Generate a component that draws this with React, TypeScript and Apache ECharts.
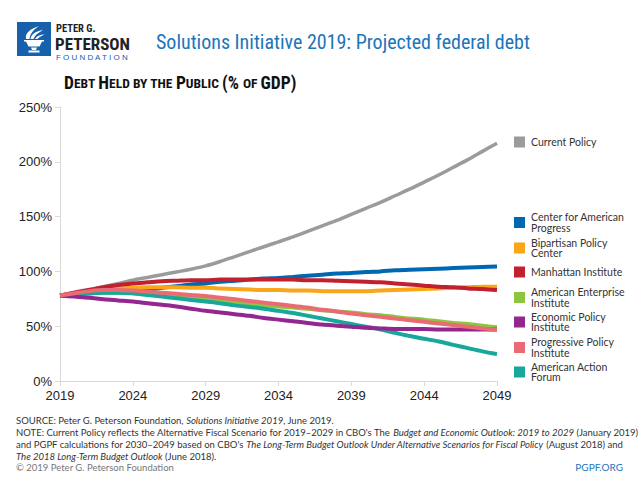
import React, { useEffect, useRef } from "react";
import * as echarts from "echarts";

const years = [
  "2019", "2020", "2021", "2022", "2023", "2024", "2025", "2026", "2027", "2028",
  "2029", "2030", "2031", "2032", "2033", "2034", "2035", "2036", "2037", "2038",
  "2039", "2040", "2041", "2042", "2043", "2044", "2045", "2046", "2047", "2048", "2049",
];

const currentPolicy = [78, 81, 83.5, 86, 89, 92, 94.5, 97, 99.5, 102, 105, 109, 113.5, 118, 122.5, 127, 131.5, 136.5, 141.5, 146.5, 152, 157.5, 163, 169, 175, 181.5, 188, 195, 202, 209.5, 217];
const centerAmericanProgress = [78, 79, 80, 81, 81.5, 82, 83.5, 85, 86.5, 88, 89, 90.5, 91.5, 92.5, 93.5, 94, 95, 96, 97, 98, 98.5, 99.5, 100, 101, 101.5, 102, 102.5, 103, 103.5, 104, 104.5];
const bipartisanPolicyCenter = [78, 80, 82, 83.5, 84.5, 85, 85.5, 85.5, 85.5, 85, 85, 84.5, 84, 83.5, 83, 83, 82.5, 82.5, 82, 82, 82, 82, 82.5, 83, 83.5, 84, 84.5, 85, 85.5, 86, 86];
const manhattanInstitute = [78, 80.5, 83, 85.5, 87.5, 89, 90, 91, 91.5, 92, 92, 92.5, 92.5, 92.5, 92.5, 92.5, 92.5, 92, 92, 91.5, 91, 90.5, 90, 89, 88, 87, 86, 85.5, 84.5, 84, 83];
const americanEnterpriseInstitute = [78, 79, 80, 80.5, 80.5, 80, 79, 78, 77, 76, 75, 73.5, 72, 70.5, 69, 68, 67, 66, 64.5, 63.5, 62.5, 61, 60, 58.5, 57, 56, 54.5, 53, 52, 50.5, 49];
const economicPolicyInstitute = [78, 77, 76, 74.5, 73.5, 72.5, 71, 69.5, 68, 66, 64, 62.5, 61, 59.5, 57.5, 56, 54.5, 53, 51.5, 50.5, 49.5, 48.5, 48, 47.5, 47.5, 47.5, 47, 47, 47, 47, 47];
const progressivePolicyInstitute = [78, 80, 82, 83, 83, 82.5, 81.5, 80.5, 79.5, 78.5, 77.5, 76, 74.5, 73, 71.5, 70, 68.5, 67, 65, 63.5, 61.5, 60, 58.5, 57, 55.5, 54, 52.5, 51, 49.5, 48, 46.5];
const americanActionForum = [78, 79, 80, 80.5, 80.5, 80, 78.5, 77, 75.5, 74, 72.5, 71, 69, 67.5, 66, 64, 62, 59.5, 57, 54.5, 52, 49.5, 47, 44, 41, 38.5, 36, 33, 30, 27, 24.5];

const seriesNames = [
  "Current Policy",
  "Center for American Progress",
  "Bipartisan Policy Center",
  "Manhattan Institute",
  "American Enterprise Institute",
  "Economic Policy Institute",
  "Progressive Policy Institute",
  "American Action Forum",
];
const legendLabels = [
  "Current Policy",
  "Center for American\nProgress",
  "Bipartisan Policy\nCenter",
  "Manhattan Institute",
  "American Enterprise\nInstitute",
  "Economic Policy\nInstitute",
  "Progressive Policy\nInstitute",
  "American Action\nForum",
];
const seriesData = [
  currentPolicy,
  centerAmericanProgress,
  bipartisanPolicyCenter,
  manhattanInstitute,
  americanEnterpriseInstitute,
  economicPolicyInstitute,
  progressivePolicyInstitute,
  americanActionForum,
];

const colors = ["#9b9b9b", "#0067b1", "#f9a61a", "#c1202f", "#8cc63f", "#92278f", "#ea6b74", "#17a89b"];
// drawing order (last on top)
const drawOrder = [0, 1, 2, 3, 4, 7, 5, 6];
const legendCenters = [142, 222.5, 248, 272, 297.5, 322, 347.5, 372];

const titleText = "Solutions Initiative 2019: Projected federal debt";
const sourceLine = "SOURCE: Peter G. Peterson Foundation, {i|Solutions Initiative 2019}, June 2019.";
const noteLine1 = "NOTE: Current Policy reflects the Alternative Fiscal Scenario for 2019–2029 in CBO's The {i|Budget and Economic Outlook: 2019 to 2029} (January 2019)";
const noteLine2 = "and PGPF calculations for 2030–2049 based on CBO's {i|The Long-Term Budget Outlook Under Alternative Scenarios for Fiscal Policy} (August 2018) and";
const noteLine3 = "{i|The 2018 Long-Term Budget Outlook} (June 2018).";
const copyright = "© 2019 Peter G. Peterson Foundation";
const siteText = "PGPF.ORG";

const torchPath =
  "M9 17 C8 11 13 7 22 4 C16 8 13 12 12.5 17 Z " +
  "M13.5 17 C14 12 19 9 26 8 C21 11 17.5 13.5 16.5 17 Z " +
  "M18 17 C19.5 14 23 12.5 27.5 12.5 C24 14 21.5 15.5 20.5 17 Z " +
  "M7 18 L27 18 L27 19.5 L25 19.5 L22.5 24.5 L11.5 24.5 L9 19.5 L7 19.5 Z " +
  "M14 25.5 L20 25.5 L19 28 L15 28 Z " +
  "M11.5 28.5 L22.5 28.5 L22.5 30.5 L11.5 30.5 Z";

const narrow = "'Liberation Sans Narrow', 'Roboto Condensed', 'Liberation Sans', sans-serif";
const noteFont = "'Liberation Sans Narrow', Lato, sans-serif";

export default function App() {
  const ref = useRef<HTMLDivElement>(null);
  useEffect(() => {
    if (!ref.current) return;
    echarts.graphic.registerShape("logo", echarts.graphic.extendPath(torchPath, {}) as any);
    const chart = echarts.init(ref.current, null, { renderer: "svg" });

    const legendGraphics: any[] = [];
    legendLabels.forEach((label, i) => {
      legendGraphics.push({
        type: "rect",
        shape: { x: 514, y: legendCenters[i] - 5.5, width: 11, height: 11 },
        style: { fill: colors[i] },
      });
      legendGraphics.push({
        type: "text",
        x: 531,
        y: legendCenters[i],
        style: {
          text: label,
          fill: "#333",
          font: "10.5px Lato, 'Open Sans', sans-serif",
          lineHeight: 10.5,
          width: 100,
          textVerticalAlign: "middle",
        },
      });
    });

    const noteRich = { i: { fontStyle: "italic", fontSize: 9.5, fontFamily: noteFont, fill: "#333" } };

    chart.setOption({
      animation: false,
      backgroundColor: "#fff",
      grid: { left: 60, right: 143, top: 107, bottom: 99 },
      xAxis: {
        type: "category",
        data: years,
        boundaryGap: false,
        axisLine: { lineStyle: { color: "#d9d9d9", width: 1 } },
        axisTick: { interval: 4, length: 5, lineStyle: { color: "#d9d9d9" } },
        axisLabel: { interval: 4, color: "#222", fontSize: 13, fontFamily: "'Liberation Sans', Arial, sans-serif", margin: 8 },
        splitLine: { show: false },
      },
      yAxis: {
        type: "value",
        min: 0,
        max: 250,
        interval: 50,
        axisLine: { show: true, lineStyle: { color: "#d9d9d9", width: 1 } },
        axisTick: { show: true, length: 5, lineStyle: { color: "#d9d9d9" } },
        axisLabel: { formatter: "{value}%", color: "#222", fontSize: 13, fontFamily: "'Liberation Sans', Arial, sans-serif", margin: 8 },
        splitLine: { show: false },
      },
      series: drawOrder.map((i) => ({
        name: seriesNames[i],
        type: "line",
        data: seriesData[i],
        smooth: 0.3,
        showSymbol: false,
        symbol: "none",
        lineStyle: { color: colors[i], width: i === 0 ? 3.5 : 4 },
        itemStyle: { color: colors[i] },
      })),
      graphic: [
        { type: "rect", shape: { x: 17, y: 22, width: 34, height: 34 }, style: { fill: "#1760ab" } },
        { type: "logo", x: 17, y: 22, scaleX: 1, scaleY: 1, style: { fill: "#fff" } },
        { type: "text", x: 56, y: 28, style: { text: "PETER G.", fill: "#222", font: `bold 10.5px ${narrow}`, textVerticalAlign: "middle" } },
        { type: "text", x: 55, y: 44, style: { text: "PETERSON", fill: "#222", font: `bold 17px ${narrow}`, textVerticalAlign: "middle" } },
        { type: "text", x: 56, y: 57, style: { text: "F O U N D A T I O N", fill: "#1760ab", font: `8px 'Liberation Sans', sans-serif`, textVerticalAlign: "middle" } },
        { type: "text", x: 156, y: 42, style: { text: titleText, fill: "#1b75bb", font: `20px ${narrow}`, textVerticalAlign: "middle" } },
        {
          type: "text",
          x: 64,
          y: 92,
          style: {
            text: "{b|D}{s|EBT }{b|H}{s|ELD BY THE }{b|P}{s|UBLIC }{b|(% }{s|OF }{b|GDP)}",
            textVerticalAlign: "bottom",
            rich: {
              b: { fontSize: 17.5, fontFamily: narrow, fontWeight: "bold", fill: "#111" },
              s: { fontSize: 13.5, fontFamily: narrow, fontWeight: "bold", fill: "#111" },
            },
          },
        },
        ...legendGraphics,
        { type: "text", x: 16, y: 420, style: { text: sourceLine, fill: "#333", font: `9.5px ${noteFont}`, textVerticalAlign: "middle", rich: noteRich } },
        { type: "text", x: 16, y: 432.5, style: { text: noteLine1, fill: "#333", font: `9.5px ${noteFont}`, textVerticalAlign: "middle", rich: noteRich } },
        { type: "text", x: 16, y: 444.5, style: { text: noteLine2, fill: "#333", font: `9.5px ${noteFont}`, textVerticalAlign: "middle", rich: noteRich } },
        { type: "text", x: 16, y: 456, style: { text: noteLine3, fill: "#333", font: `9.5px ${noteFont}`, textVerticalAlign: "middle", rich: noteRich } },
        { type: "text", x: 16, y: 467, style: { text: copyright, fill: "#777", font: `9.5px ${noteFont}`, textVerticalAlign: "middle" } },
        { type: "text", x: 623, y: 467, style: { text: siteText, fill: "#1b75bb", font: `10px ${noteFont}`, textAlign: "right", textVerticalAlign: "middle" } },
      ],
    });
    return () => chart.dispose();
  }, []);
  return <div ref={ref} style={{ position: "fixed", left: 0, top: 0, width: 640, height: 480 }} />;
}
